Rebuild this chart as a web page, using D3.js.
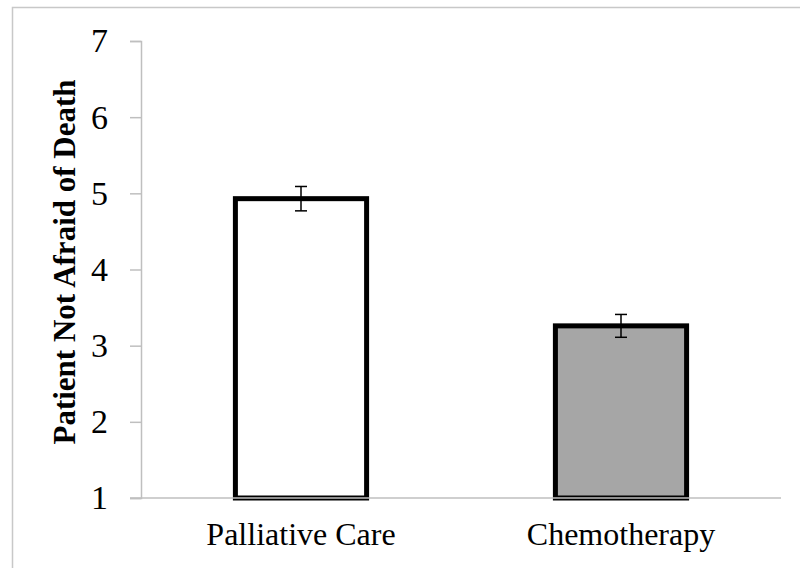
<!DOCTYPE html>
<html>
<head>
<meta charset="utf-8">
<script src="https://cdn.jsdelivr.net/npm/d3@7"></script>
<style>
  body { margin: 0; background: #fff; }
  text { font-family: "Liberation Serif", "Times New Roman", serif; }
</style>
</head>
<body>
<div id="chart-area"></div>
<script>
// data
let categories = ["Palliative Care", "Chemotherapy"];
let means = [4.93, 3.26];
let errors = [0.16, 0.15];
let fills = ["#ffffff", "#a6a6a6"];
let yTicks = [1, 2, 3, 4, 5, 6, 7];

let svg = d3.select("#chart-area")
        .append("svg")
        .attr("width", 800)
        .attr("height", 568);

// outer frame
svg.append("rect")
    .attr("x", 12.5)
    .attr("y", 7.5)
    .attr("width", 800)
    .attr("height", 600)
    .attr("fill", "none")
    .attr("stroke", "#c8c8c8")
    .attr("stroke-width", 1.5);

let x = d3.scaleBand()
        .domain(categories)
        .range([141, 781])
        .paddingInner(0.59)
        .paddingOuter(0.295);

let y = d3.scaleLinear()
        .domain([1, 7])
        .range([498, 41]);

// y axis
let yAxis = svg.append("g")
        .attr("transform", "translate(141,0)")
        .call(d3.axisLeft(y).tickValues(yTicks).tickSize(11).tickPadding(22).tickFormat(d3.format("d")));
yAxis.select(".domain").attr("stroke", "#bfbfbf").attr("stroke-width", 1.5);
yAxis.selectAll(".tick line").attr("stroke", "#bfbfbf").attr("stroke-width", 1.5);
yAxis.selectAll(".tick text")
    .attr("fill", "#000")
    .style("font-size", "34px")
    .style("font-family", "Liberation Serif");

// bars
svg.selectAll("rect.bar")
    .data(categories)
    .enter()
    .append("rect")
    .attr("class", "bar")
    .attr("x", function(d){ return x(d); })
    .attr("width", x.bandwidth())
    .attr("y", function(d, i){ return y(means[i]); })
    .attr("height", function(d, i){ return y(1) - y(means[i]); })
    .attr("fill", function(d, i){ return fills[i]; })
    .attr("stroke", "#000")
    .attr("stroke-width", 5);

// x axis line drawn over bar bottoms
svg.append("line")
    .attr("x1", 130)
    .attr("x2", 781)
    .attr("y1", y(1))
    .attr("y2", y(1))
    .attr("stroke", "#bfbfbf")
    .attr("stroke-width", 1.5);

// error bars
let err = svg.selectAll("g.err")
        .data(categories)
        .enter()
        .append("g")
        .attr("class", "err")
        .attr("stroke", "#000")
        .attr("stroke-width", 1.5);
err.append("line")
    .attr("x1", function(d){ return x(d) + x.bandwidth() / 2; })
    .attr("x2", function(d){ return x(d) + x.bandwidth() / 2; })
    .attr("y1", function(d, i){ return y(means[i] + errors[i]); })
    .attr("y2", function(d, i){ return y(means[i] - errors[i]); });
err.append("line")
    .attr("x1", function(d){ return x(d) + x.bandwidth() / 2 - 6; })
    .attr("x2", function(d){ return x(d) + x.bandwidth() / 2 + 6; })
    .attr("y1", function(d, i){ return y(means[i] + errors[i]); })
    .attr("y2", function(d, i){ return y(means[i] + errors[i]); });
err.append("line")
    .attr("x1", function(d){ return x(d) + x.bandwidth() / 2 - 6; })
    .attr("x2", function(d){ return x(d) + x.bandwidth() / 2 + 6; })
    .attr("y1", function(d, i){ return y(means[i] - errors[i]); })
    .attr("y2", function(d, i){ return y(means[i] - errors[i]); });

// category labels
svg.selectAll("text.cat")
    .data(categories)
    .enter()
    .append("text")
    .attr("class", "cat")
    .attr("x", function(d){ return x(d) + x.bandwidth() / 2; })
    .attr("y", 545)
    .attr("text-anchor", "middle")
    .style("font-size", "32px")
    .text(function(d){ return d; });

// y title
svg.append("text")
    .attr("transform", "translate(75,262) rotate(-90)")
    .attr("text-anchor", "middle")
    .style("font-size", "31px")
    .style("font-weight", "bold")
    .text("Patient Not Afraid of Death");
</script>
</body>
</html>
